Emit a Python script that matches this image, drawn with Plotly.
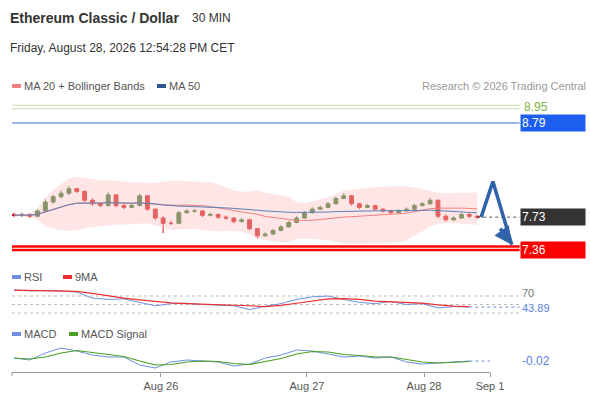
import plotly.graph_objects as go
import pandas as pd

# 30 min candles (one every other bar kept)
close = [7.75, 7.76, 7.74, 7.80, 7.90, 7.96, 8.00, 8.05, 8.02, 7.92,
         7.88, 7.86, 7.98, 7.86, 7.84, 7.86, 7.97, 7.82, 7.72, 7.66,
         7.66, 7.78, 7.80, 7.80, 7.75, 7.76, 7.73, 7.72, 7.68, 7.70,
         7.60, 7.52, 7.54, 7.58, 7.62, 7.67, 7.72, 7.78, 7.82, 7.84,
         7.88, 7.94, 7.97, 7.88, 7.84, 7.86, 7.82, 7.80, 7.78, 7.80,
         7.82, 7.86, 7.88, 7.92, 7.74, 7.70, 7.72, 7.76, 7.74, 7.73]
opens = [7.76, 7.75, 7.76, 7.74, 7.80, 7.90, 7.96, 8.00, 8.05, 8.02,
         7.92, 7.88, 7.86, 7.98, 7.86, 7.84, 7.86, 7.97, 7.82, 7.72,
         7.66, 7.66, 7.78, 7.80, 7.80, 7.75, 7.76, 7.73, 7.72, 7.68,
         7.70, 7.60, 7.52, 7.54, 7.58, 7.62, 7.67, 7.72, 7.78, 7.82,
         7.84, 7.88, 7.94, 7.97, 7.88, 7.84, 7.86, 7.82, 7.80, 7.78,
         7.80, 7.82, 7.86, 7.88, 7.92, 7.74, 7.70, 7.72, 7.76, 7.74]
high = [7.78, 7.78, 7.77, 7.82, 7.93, 7.98, 8.03, 8.08, 8.06, 8.03,
        7.94, 7.90, 8.01, 7.99, 7.88, 7.88, 7.99, 7.98, 7.83, 7.74,
        7.69, 7.80, 7.82, 7.82, 7.81, 7.78, 7.77, 7.75, 7.73, 7.72,
        7.71, 7.61, 7.56, 7.60, 7.64, 7.69, 7.74, 7.80, 7.84, 7.86,
        7.90, 7.96, 8.00, 7.98, 7.89, 7.88, 7.87, 7.83, 7.81, 7.82,
        7.84, 7.88, 7.90, 7.95, 7.93, 7.76, 7.74, 7.78, 7.78, 7.75]
low = [7.73, 7.73, 7.72, 7.73, 7.79, 7.88, 7.94, 7.98, 8.00, 7.90,
       7.86, 7.84, 7.85, 7.84, 7.82, 7.83, 7.85, 7.80, 7.70, 7.55,
       7.64, 7.65, 7.77, 7.78, 7.73, 7.74, 7.71, 7.70, 7.66, 7.67,
       7.58, 7.49, 7.51, 7.53, 7.57, 7.61, 7.66, 7.71, 7.77, 7.81,
       7.83, 7.87, 7.93, 7.86, 7.82, 7.83, 7.80, 7.78, 7.76, 7.77,
       7.79, 7.81, 7.85, 7.87, 7.72, 7.68, 7.69, 7.71, 7.72, 7.71]

rsi = [84, 82, 83, 82, 79, 65, 62, 63, 55, 47, 52, 53, 50, 48, 47,
       38, 46, 52, 62, 68, 70, 62, 55, 52, 57, 50, 52, 42, 45, 43.89]
rsi_ma = [84, 83, 82, 82, 81, 76, 70, 65, 61, 57, 54, 52, 51, 50, 49,
          47, 45, 48, 53, 58, 63, 64, 62, 58, 56, 55, 53, 49, 46, 45]
macd = [-0.008, -0.016, 0.012, 0.032, 0.02, 0.004, -0.004, -0.004, -0.036, -0.048,
        -0.024, -0.016, -0.02, -0.024, -0.04, -0.032, -0.008, 0.004, 0.024, 0.02,
        0.008, -0.004, 0.0, -0.008, -0.004, -0.024, -0.032, -0.028, -0.024, -0.02]
macd_sig = [-0.008, -0.012, -0.004, 0.012, 0.022, 0.014, 0.004, -0.002, -0.02, -0.036,
            -0.034, -0.024, -0.02, -0.022, -0.03, -0.034, -0.022, -0.01, 0.008, 0.018,
            0.016, 0.006, 0.002, -0.004, -0.004, -0.014, -0.024, -0.028, -0.026, -0.022]

tick_pos = [18.7, 37.3, 52.2, 60.6]
tick_text = ["Aug 26", "Aug 27", "Aug 28", "Sep 1"]
resist = [8.99, 8.95]
pivot = 8.79
supports = [7.40, 7.36]
last = 7.73
forecast_x = [59.5, 61.0, 63.4]
forecast_y = [7.73, 8.13, 7.42]

W, H = 590, 400
XS = 576  # paper width that actually ends up on screen
def px(v):
    return v / XS
def py(v):
    return 1 - v / H

xi = list(range(len(close)))
xk = xi[::2]
s = pd.Series(close)
ma20 = s.rolling(20, min_periods=1).mean()
sd = s.rolling(20, min_periods=2).std().bfill()
ma50 = s.rolling(50, min_periods=1).mean()
up = ma20 + 2.4 * sd
dn = ma20 - 2.4 * sd

fig = go.Figure()
fig.add_trace(go.Scatter(x=xi, y=up, mode="lines", line=dict(width=0), hoverinfo="skip"))
fig.add_trace(go.Scatter(x=xi, y=dn, mode="lines", line=dict(width=0), fill="tonexty",
                         fillcolor="rgba(255,200,200,0.45)", hoverinfo="skip"))
fig.add_trace(go.Scatter(x=xi, y=ma20, mode="lines", line=dict(color="#f08080", width=1)))
fig.add_trace(go.Scatter(x=xi, y=ma50, mode="lines", line=dict(color="#5b7fb5", width=1)))
fig.add_trace(go.Candlestick(x=xi, open=opens, high=high, low=low, close=close,
                             increasing=dict(line=dict(color="#2e6b1f", width=1), fillcolor="#2e6b1f"),
                             decreasing=dict(line=dict(color="#d01010", width=1), fillcolor="#d01010"),
                             whiskerwidth=0))
for lv in resist:
    fig.add_trace(go.Scatter(x=[-0.25, 64.4], y=[lv, lv], mode="lines", line=dict(color="#c5dca8", width=1)))
fig.add_trace(go.Scatter(x=[-0.25, 64.4], y=[pivot, pivot], mode="lines", line=dict(color="#3a6fd8", width=1.2)))
for lv in supports:
    fig.add_trace(go.Scatter(x=[-0.25, 64.4], y=[lv, lv], mode="lines", line=dict(color="#ff0000", width=2.5)))
fig.add_trace(go.Scatter(x=[59, 64.4], y=[last, last], mode="lines", line=dict(color="#555", width=1, dash="dot")))
fig.add_trace(go.Scatter(x=forecast_x, y=forecast_y, mode="lines", line=dict(color="#2f62a8", width=3.5)))
fig.add_annotation(x=forecast_x[2], y=forecast_y[2], ax=forecast_x[1] + 0.8, ay=7.62, xref="x", yref="y",
                   axref="x", ayref="y", showarrow=True, arrowhead=2, arrowsize=1, arrowwidth=3.5,
                   arrowcolor="#2f62a8", text="")

# RSI panel
for lv in [70, 50, 30]:
    fig.add_trace(go.Scatter(x=[-0.25, 64.4], y=[lv, lv], mode="lines", xaxis="x2", yaxis="y2",
                             line=dict(color="#bbb", width=1, dash="dot")))
fig.add_trace(go.Scatter(x=[58, 64.4], y=[rsi[-1], rsi[-1]], mode="lines", xaxis="x2", yaxis="y2",
                         line=dict(color="#6e8fe0", width=1, dash="dot")))
fig.add_trace(go.Scatter(x=xk, y=rsi, mode="lines", xaxis="x2", yaxis="y2", line=dict(color="#6e8fe0", width=1)))
fig.add_trace(go.Scatter(x=xk, y=rsi_ma, mode="lines", xaxis="x2", yaxis="y2", line=dict(color="#f03030", width=1.2)))

# MACD panel
fig.add_trace(go.Scatter(x=[58, 64.4], y=[macd[-1], macd[-1]], mode="lines", xaxis="x3", yaxis="y3",
                         line=dict(color="#6e8fe0", width=1, dash="dot")))
fig.add_trace(go.Scatter(x=xk, y=macd, mode="lines", xaxis="x3", yaxis="y3", line=dict(color="#6e8fe0", width=1)))
fig.add_trace(go.Scatter(x=xk, y=macd_sig, mode="lines", xaxis="x3", yaxis="y3", line=dict(color="#4aa020", width=1.2)))

xr = [-0.25, 64.45]
dom = [px(12), px(520)]
fig.update_layout(
    width=W, height=H, margin=dict(l=0, r=0, t=0, b=0), showlegend=False, autosize=False,
    paper_bgcolor="white", plot_bgcolor="rgba(0,0,0,0)",
    font=dict(family="Liberation Sans, Arial", size=11, color="#555"),
    xaxis=dict(domain=dom, range=xr, visible=False, rangeslider=dict(visible=False)),
    yaxis=dict(domain=[py(258), py(95)], range=[7.27, 9.105], visible=False),
    xaxis2=dict(domain=dom, range=xr, visible=False, anchor="y2"),
    yaxis2=dict(domain=[py(318), py(285)], range=[18.2, 95.9], visible=False, anchor="x2"),
    xaxis3=dict(domain=[px(12), px(490)], range=[-0.25, 60.6], anchor="y3", showline=True,
                linecolor="#999", ticks="outside", ticklen=4, tickcolor="#999",
                tickvals=tick_pos, ticktext=tick_text, showgrid=False, zeroline=False,
                tickfont=dict(size=11, color="#555")),
    yaxis3=dict(domain=[py(372), py(340)], range=[-0.064, 0.064], visible=False, anchor="x3"),
)
# left edge tick of bottom axis
fig.add_shape(type="line", xref="paper", yref="paper", x0=px(12), x1=px(12), y0=py(372), y1=py(376),
              line=dict(color="#999", width=1))

def label(y, text, bg, fg="white"):
    fig.add_annotation(x=px(586), y=py(y), xref="paper", yref="paper", text=text, showarrow=False,
                       xanchor="right", yanchor="middle", align="left", width=62, height=14, bgcolor=bg,
                       font=dict(color=fg, size=12))

def text(x, y, t, size=11, color="#555", anchor="left"):
    fig.add_annotation(x=px(x), y=py(y), xref="paper", yref="paper", text=t, showarrow=False,
                       xanchor=anchor, yanchor="middle", font=dict(size=size, color=color))

label(123, "8.79", "#1e5ff0")
label(217, "7.73", "#333333")
label(250, "7.36", "#ff0000")
text(522, 107, "8.95", 12, "#7cb342")
text(520, 293, "70", 11, "#777")
text(520, 308, "43.89", 11, "#5b7fe0")
text(520, 361, "-0.02", 12, "#5b7fe0")

text(8, 18, "<b>Ethereum Classic / Dollar</b>", 14, "#333")
text(190, 18, "30 MIN", 12, "#333")
text(8, 48, "Friday, August 28, 2026 12:54:28 PM CET", 12, "#333")
text(588, 86, "Research © 2026 Trading Central", 11, "#999", "right")

def swatch(x, y, color):
    fig.add_shape(type="rect", xref="paper", yref="paper", x0=px(x), x1=px(x + 9),
                  y0=py(y + 2), y1=py(y - 2), fillcolor=color, line=dict(width=0))

swatch(12, 86, "#f08080"); text(22, 86, "MA 20 + Bollinger Bands")
swatch(157, 86, "#2f5590"); text(167, 86, "MA 50")
swatch(12, 277, "#6e8fe0"); text(22, 277, "RSI")
swatch(63, 277, "#f03030"); text(73, 277, "9MA")
swatch(12, 334, "#6e8fe0"); text(22, 334, "MACD")
swatch(69, 334, "#4aa020"); text(79, 334, "MACD Signal")

# drop the page margin/scrollbar, then size the plot to the full window again
fix = ("document.body.style.margin='0';document.body.style.overflow='hidden';"
       "Plotly.relayout('{plot_id}', {width: 590, height: 400});")
fig.write_html("out.html", post_script=fix, config=dict(displayModeBar=False, responsive=False))
